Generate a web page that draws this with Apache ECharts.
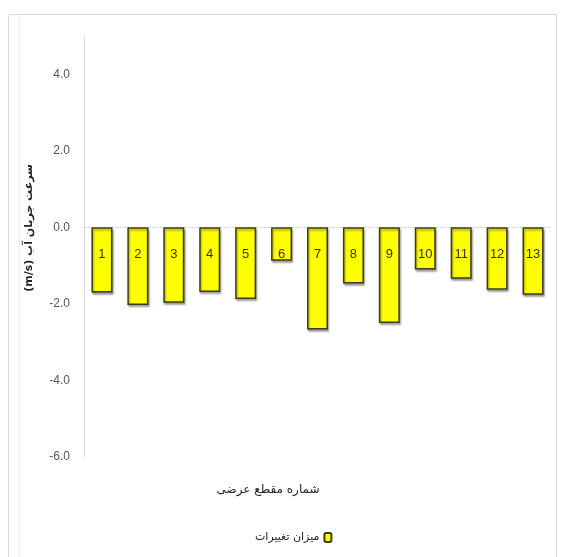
<!DOCTYPE html>
<html><head><meta charset="utf-8">
<script src="https://cdn.jsdelivr.net/npm/echarts@6/dist/echarts.min.js"></script>
<style>html,body{margin:0;padding:0;background:#fff}#c{width:561px;height:557px}</style>
</head><body><div id="c"></div>
<script>
const categories = ['1','2','3','4','5','6','7','8','9','10','11','12','13'];
const values = [-1.7,-2.03,-1.97,-1.69,-1.87,-0.87,-2.67,-1.47,-2.5,-1.1,-1.34,-1.63,-1.76];
const seriesName = 'میزان تغییرات';
const xTitle = 'شماره مقطع عرضی';
const yTitle = '(m/s) سرعت جریان آب';
const yMin = -6, yMax = 5, yStep = 2;

const chart = echarts.init(document.getElementById('c'), null, {renderer:'canvas'});
chart.setOption({
  animation:false,
  backgroundColor:'#fff',
  grid:{left:84,right:10,top:36,bottom:100,containLabel:false},
  graphic:[
    {type:'rect',shape:{x:8.5,y:14.5,width:548,height:560},style:{fill:'none',stroke:'#d9d9d9',lineWidth:1}},
    {type:'line',shape:{x1:19.5,y1:15,x2:19.5,y2:557},style:{stroke:'#efefef',lineWidth:1}},
    {type:'text',x:268,y:490,style:{text:xTitle,font:'12px "DejaVu Sans"',fill:'#222',align:'center',verticalAlign:'middle'}},
    {type:'text',x:29,y:228,rotation:Math.PI/2,style:{text:yTitle,font:'bold 11px "DejaVu Sans"',fill:'#222',align:'center',verticalAlign:'middle'}}
  ],
  legend:{data:[seriesName],top:527,left:250,align:'right',itemWidth:7,itemHeight:9,itemGap:4,
    textStyle:{fontSize:11,color:'#222',fontFamily:'DejaVu Sans'}},
  xAxis:{type:'category',data:categories,
    axisLine:{onZero:true,lineStyle:{color:'#d0d0d0',type:[2,2],width:1}},
    axisTick:{show:false},
    axisLabel:{show:false}},
  yAxis:{type:'value',min:yMin,max:yMax,interval:yStep,
    axisLine:{show:true,lineStyle:{color:'#d9d9d9'}},
    axisTick:{show:false},
    splitLine:{show:false},
    axisLabel:{showMaxLabel:false,formatter:v=>v.toFixed(1),fontSize:12,color:'#555',margin:14,fontFamily:'Liberation Sans'}},
  series:[{name:seriesName,type:'bar',data:values,barWidth:21,
    label:{show:true,position:'insideTop',distance:21,formatter:p=>categories[p.dataIndex],
      fontSize:13,color:'#333',fontFamily:'Liberation Sans'},
    itemStyle:{color:'#ffff00',borderColor:'#3d3d1a',borderWidth:1.5,
      shadowColor:'rgba(0,0,0,0.35)',shadowOffsetX:1,shadowOffsetY:2,shadowBlur:2},
    z:2}]
});
</script></body></html>
